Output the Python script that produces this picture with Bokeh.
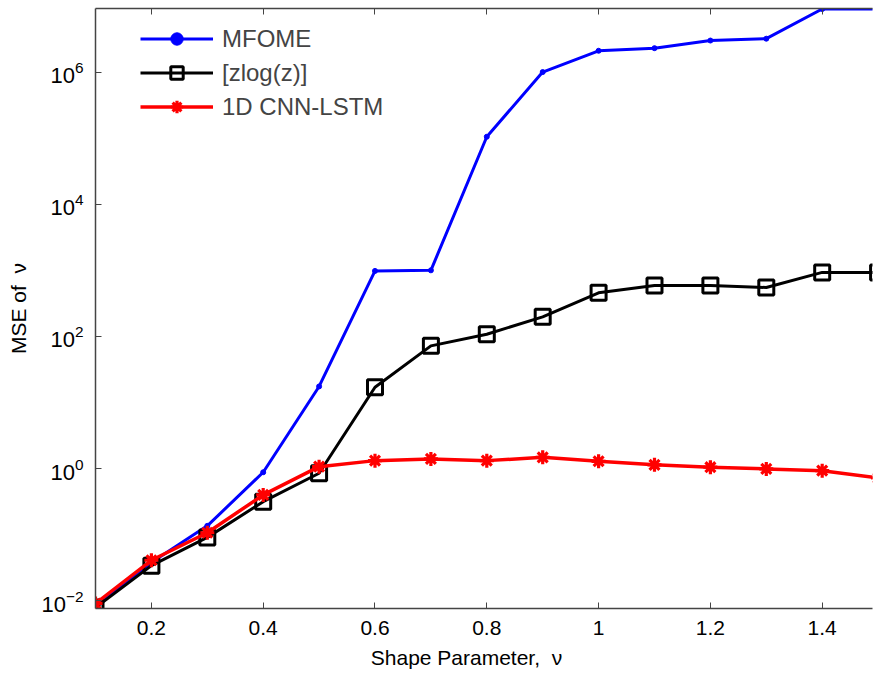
from bokeh.plotting import figure
from bokeh.models import LinearAxis, FixedTicker, Range1d, Legend, LegendItem, CustomJSTickFormatter
from bokeh.embed import file_html
from bokeh.resources import INLINE

x_vals = [0.1, 0.2, 0.3, 0.4, 0.5, 0.6, 0.7, 0.8, 0.9, 1.0, 1.1, 1.2, 1.3, 1.4, 1.5]
mfome = [0.0088, 0.038, 0.136, 0.88, 17.5, 980, 1000, 1.05e5, 1.0e6, 2.1e6, 2.3e6, 3.0e6, 3.2e6, 9.0e6, 9.0e6]
zlogz = [0.0079, 0.034, 0.091, 0.316, 0.85, 17, 72, 108, 198, 457, 590, 590, 550, 930, 930]
cnn_lstm = [0.0091, 0.041, 0.107, 0.40, 1.07, 1.32, 1.40, 1.32, 1.48, 1.29, 1.14, 1.05, 0.99, 0.93, 0.72]
y_ticks = [1e-2, 1e0, 1e2, 1e4, 1e6]
x_ticks = [0.2, 0.4, 0.6, 0.8, 1.0, 1.2, 1.4]

FONT = "Liberation Sans"

p = figure(width=873, height=675, output_backend="svg", toolbar_location=None,
           y_axis_type="log",
           x_range=Range1d(0.1, 1.49), y_range=Range1d(10**-2.117, 10**6.962),
           min_border_left=95, min_border_right=1, min_border_top=8, min_border_bottom=67)
p.outline_line_color = None
p.grid.visible = False
p.background_fill_color = "white"

for ax in [p.xaxis[0], p.yaxis[0]]:
    ax.major_tick_in = 6
    ax.major_tick_out = 0
    ax.minor_tick_line_color = None
    ax.axis_line_color = "#444444"
    ax.major_tick_line_color = "#444444"
    ax.axis_line_width = 1.5
    ax.major_label_text_font = FONT
    ax.major_label_text_font_size = "21px"
    ax.major_label_text_color = "black"
    ax.axis_label_text_font = FONT
    ax.axis_label_text_font_size = "21px"
    ax.axis_label_text_font_style = "normal"
    ax.axis_label_text_color = "black"

p.yaxis[0].major_label_text_font_size = "22px"
p.xaxis[0].ticker = FixedTicker(ticks=x_ticks)
p.xaxis[0].major_label_overrides = {1.0: "1"}
p.yaxis[0].ticker = FixedTicker(ticks=y_ticks)
p.xaxis[0].axis_label = "Shape Parameter,\u00a0\u00a0ν" + "\u00a0" * 6
p.yaxis[0].axis_label = "MSE of\u00a0\u00a0ν"
p.xaxis[0].major_label_standoff = 12
p.xaxis[0].axis_label_standoff = 8
p.yaxis[0].major_label_standoff = 12
p.yaxis[0].axis_label_standoff = 8

top = LinearAxis(ticker=FixedTicker(ticks=x_ticks), major_label_text_font_size="0px",
                 major_tick_in=6, major_tick_out=0, minor_tick_line_color=None,
                 axis_line_color="#444444", major_tick_line_color="#444444", axis_line_width=1.5,
                 major_label_standoff=0)
top.major_label_text_alpha = 0
p.add_layout(top, "above")

b1 = p.line(x_vals, mfome, line_color="blue", line_width=3)
b2 = p.scatter(x_vals, mfome, marker="circle", size=5, color="blue")
k1 = p.line(x_vals, zlogz, line_color="black", line_width=3)
k2 = p.scatter(x_vals, zlogz, marker="square", size=15, fill_color=None, line_color="black", line_width=3)
r1 = p.line(x_vals, cnn_lstm, line_color="red", line_width=3.5)
r2 = p.scatter(x_vals, cnn_lstm, marker="asterisk", size=14, line_color="red", line_width=3.2)

legend = Legend(items=[LegendItem(label="MFOME", renderers=[b1, b2]),
                       LegendItem(label="[zlog(z)]", renderers=[k1, k2]),
                       LegendItem(label="1D CNN-LSTM", renderers=[r1, r2])],
                location=(45, 486), glyph_width=73, glyph_height=31, label_height=31,
                spacing=3, padding=5, label_standoff=9, border_line_color=None,
                background_fill_alpha=0, label_text_font=FONT, label_text_font_size="24px")
p.add_layout(legend)

open("out.html", "w").write(file_html(p, INLINE))
